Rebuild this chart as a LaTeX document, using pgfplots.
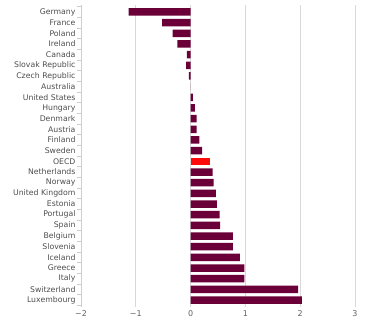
\documentclass[border=0pt]{standalone}
\usepackage{pgfplots}
\pgfplotsset{compat=1.18}
\usepackage{fontspec}
\setmainfont{DejaVu Sans}
\definecolor{barc}{HTML}{6B0038}
\definecolor{oecd}{HTML}{FF0A0A}
\definecolor{gridc}{HTML}{D8D8D8}
\definecolor{axc}{HTML}{C0D0E0}
\definecolor{labc}{HTML}{4D4D4D}
\definecolor{tickc}{HTML}{606060}
\begin{document}
\begin{tikzpicture}
\useasboundingbox (-81bp,-20bp) rectangle (286bp,307bp);
\begin{axis}[
  scale only axis,
  width=274bp, height=302bp,
  xmin=-2, xmax=3,
  ymin=-0.65, ymax=27.65,
  y dir=reverse,
  xtick={-2,-1,0,1,2,3},
  xticklabels={−2,−1,0,1,2,3},
  xmajorgrids,
  grid style={gridc, line width=0.8bp},
  axis x line*=bottom,
  axis y line*=left,
  x axis line style={draw=none},
  y axis line style={axc, line width=0.8bp},
  ytick={0,...,27},
  yticklabels={Germany,France,Poland,Ireland,Canada,Slovak Republic,Czech Republic,Australia,United States,Hungary,Denmark,Austria,Finland,Sweden,OECD,Netherlands,Norway,United Kingdom,Estonia,Portugal,Spain,Belgium,Slovenia,Iceland,Greece,Italy,Switzerland,Luxembourg},
  major tick length=0pt,
  minor ytick={-0.5,0.5,...,27.5},
  minor tick length=4bp,
  tick align=outside,
  minor tick style={axc, line width=0.8bp},
  y tick label style={font=\fontsize{7.8}{8}\selectfont, text=labc, xshift=-2bp},
  yticklabel style={anchor=east},
  x tick label style={font=\fontsize{8}{9}\selectfont, text=tickc, yshift=0bp},
  clip=false,
]
\addplot[xbar, bar width=7.5bp, bar shift=0pt, fill=barc, draw=none] coordinates {
(-1.13,0) (-0.52,1) (-0.33,2) (-0.24,3) (-0.07,4) (-0.08,5) (-0.03,6) (0,7)
(0.04,8) (0.08,9) (0.11,10) (0.11,11) (0.16,12) (0.21,13)
(0.40,15) (0.42,16) (0.46,17) (0.48,18) (0.53,19) (0.54,20) (0.77,21) (0.77,22)
(0.90,23) (0.98,24) (0.98,25) (1.96,26) (2.03,27)
};
\addplot[xbar, bar width=7.5bp, bar shift=0pt, fill=oecd, draw=none] coordinates {
(0.35,14)
};
\end{axis}
\end{tikzpicture}
\end{document}
